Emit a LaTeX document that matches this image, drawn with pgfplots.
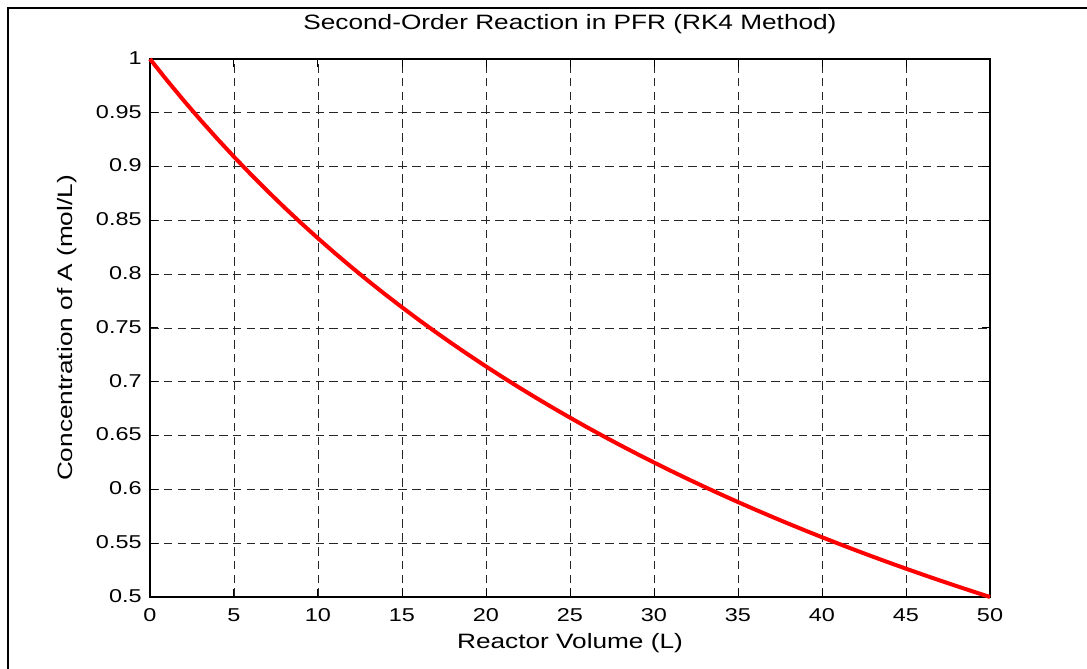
\documentclass[border=0pt]{standalone}
\usepackage{pgfplots}
\pgfplotsset{compat=1.18}
\usepackage{fontspec}
\setmainfont[FakeStretch=1.26]{Liberation Sans}
\begin{document}
\begin{tikzpicture}
\begin{axis}[
  scale only axis,
  width=420pt, height=269pt,
  xmin=0, xmax=50, ymin=0.5, ymax=1,
  xtick={0,5,...,50},
  ytick={0.5,0.55,...,1.01},
  yticklabels={0.5,0.55,0.6,0.65,0.7,0.75,0.8,0.85,0.9,0.95,1},
  /pgf/number format/assume math mode=true,
  tick align=inside,
  major tick length=4pt,
  axis line style={line width=0.6pt},
  tick style={line width=0.5pt, black},
  grid=major,
  major grid style={black!85, line width=0.4pt, dash pattern=on 4.3pt off 2.6pt},
  tick label style={font=\fontsize{9.3}{11}\selectfont},
  xticklabel style={anchor=base, yshift=-12.5pt, inner sep=0pt},
  yticklabel style={anchor=mid east, xshift=-4pt, inner sep=0pt},
  title={Second-Order Reaction in PFR (RK4 Method)},
  title style={at={(0.5,1)}, anchor=base, yshift=8.5pt, inner sep=0pt, font=\fontsize{10.4}{12}\selectfont},
  xlabel={Reactor Volume (L)},
  xlabel style={at={(0.5,0)}, anchor=base, yshift=-25.5pt, inner sep=0pt, font=\fontsize{10.4}{12}\selectfont},
  ylabel={Concentration of A (mol/L)},
  ylabel style={at={(0,0.5)}, rotate=0, anchor=base, yshift=38.5pt, inner sep=0pt, font=\fontsize{10.4}{12}\selectfont},
  clip=false,
]
\addplot[red, line width=2pt] coordinates {
(0,1.00000) (1,0.98039) (2,0.96154) (3,0.94340) (4,0.92593) (5,0.90909)
(6,0.89286) (7,0.87719) (8,0.86207) (9,0.84746) (10,0.83333)
(11,0.81967) (12,0.80645) (13,0.79365) (14,0.78125) (15,0.76923)
(16,0.75758) (17,0.74627) (18,0.73529) (19,0.72464) (20,0.71429)
(21,0.70423) (22,0.69444) (23,0.68493) (24,0.67568) (25,0.66667)
(26,0.65789) (27,0.64935) (28,0.64103) (29,0.63291) (30,0.62500)
(31,0.61728) (32,0.60976) (33,0.60241) (34,0.59524) (35,0.58824)
(36,0.58140) (37,0.57471) (38,0.56818) (39,0.56180) (40,0.55556)
(41,0.54945) (42,0.54348) (43,0.53763) (44,0.53191) (45,0.52632)
(46,0.52083) (47,0.51546) (48,0.51020) (49,0.50505) (50,0.50000)
};
\end{axis}
\pgfresetboundingbox
\useasboundingbox (-75pt,-36pt) rectangle (468.5pt,298.5pt);
\draw[line width=1.1pt] (-71pt,-37pt) -- (-71pt,294.5pt) -- (469pt,294.5pt);
\end{tikzpicture}
\end{document}
